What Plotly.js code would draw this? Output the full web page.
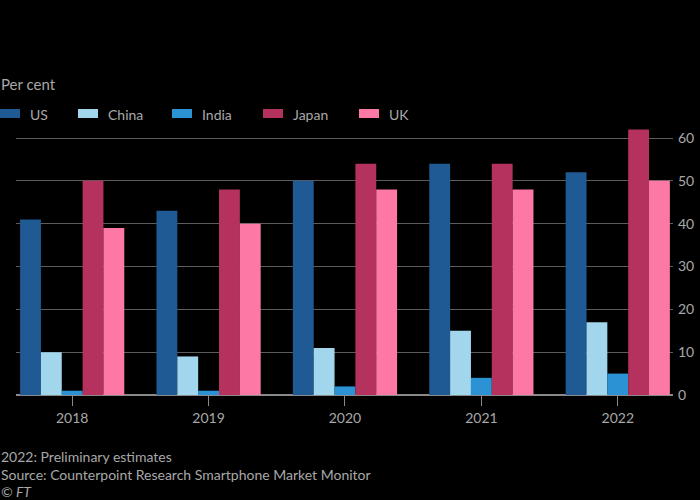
<!DOCTYPE html>
<html>
<head>
<meta charset="utf-8">
<script src="https://cdn.plot.ly/plotly-3.0.1.min.js"></script>
<style>html,body{margin:0;padding:0;background:#000;}#chart{width:700px;height:500px;}</style>
</head>
<body>
<div id="chart"></div>
<script>
var years = ['2018', '2019', '2020', '2021', '2022'];
var seriesNames = ['US', 'China', 'India', 'Japan', 'UK'];
var usValues = [41, 43, 50, 54, 52];
var chinaValues = [10, 9, 11, 15, 17];
var indiaValues = [1, 1, 2, 4, 5];
var japanValues = [50, 48, 54, 54, 62];
var ukValues = [39, 40, 48, 48, 50];
var yTicks = [0, 10, 20, 30, 40, 50, 60];
var seriesColors = ['#205a94', '#a2d6ec', '#2b93d3', '#b5325f', '#fe78a6'];

var allValues = [usValues, chinaValues, indiaValues, japanValues, ukValues];
var FONT = 'Lato, "Noto Sans", sans-serif';
var TXT = '#a8a8a8';

var W = 700, H = 500;
var M = {l: 16, r: 27, t: 125, b: 105};
var pw = W - M.l - M.r;
var ph = H - M.t - M.b;
function px2x(px) { return (px - M.l) / pw; }
function px2y(py) { return (H - M.b - py) / ph; }

var traces = seriesNames.map(function (name, i) {
  return {
    type: 'bar', name: name, x: years, y: allValues[i],
    marker: {color: seriesColors[i], line: {width: 0}},
    showlegend: false, hoverinfo: 'x+y+name'
  };
});

// custom legend (swatch + label), like the reference
var legendSwatchLeft = [0, 78, 172, 263, 359];
var shapes = [];
var annotations = [];
seriesNames.forEach(function (name, i) {
  var x0 = legendSwatchLeft[i];
  shapes.push({type: 'rect', xref: 'paper', yref: 'paper',
    x0: px2x(x0), x1: px2x(x0 + 20), y0: px2y(118), y1: px2y(109),
    fillcolor: seriesColors[i], line: {width: 0}});
  annotations.push({xref: 'paper', yref: 'paper', x: px2x(x0 + 28), y: px2y(114),
    xanchor: 'left', yanchor: 'middle', showarrow: false, text: name,
    font: {family: FONT, size: 14, color: TXT}});
});

annotations.push({xref: 'paper', yref: 'paper', x: px2x(-1), y: px2y(84),
  xanchor: 'left', yanchor: 'middle', showarrow: false, text: 'Per cent',
  font: {family: FONT, size: 15, color: TXT}});
var footer = [
  ['2022: Preliminary estimates', 456],
  ['Source: Counterpoint Research Smartphone Market Monitor', 474],
  ['<i>© FT</i>', 491]
];
footer.forEach(function (f) {
  annotations.push({xref: 'paper', yref: 'paper', x: px2x(-1), y: px2y(f[1]),
    xanchor: 'left', yanchor: 'middle', showarrow: false, text: f[0],
    font: {family: FONT, size: 14, color: TXT}});
});

var layout = {
  width: W, height: H,
  margin: M,
  paper_bgcolor: '#000', plot_bgcolor: '#000',
  barmode: 'group', bargap: 0.236, bargroupgap: 0,
  font: {family: FONT, color: TXT, size: 14},
  xaxis: {
    type: 'category', range: [-0.412, 4.405],
    showgrid: false, zeroline: false, showline: false,
    ticks: 'outside', ticklen: 10, tickwidth: 1, tickcolor: '#8a8a8a',
    tickfont: {family: FONT, size: 14, color: TXT},
    fixedrange: true
  },
  yaxis: {
    side: 'right', range: [0, 63.04], tickvals: yTicks,
    showgrid: true, gridcolor: '#5c5c5c', gridwidth: 1,
    zeroline: true, zerolinecolor: '#8a8a8a', zerolinewidth: 1.5,
    showline: false, ticks: '', ticklabelstandoff: 4,
    tickfont: {family: FONT, size: 14, color: TXT},
    fixedrange: true
  },
  shapes: shapes,
  annotations: annotations,
  showlegend: false
};

Plotly.newPlot('chart', traces, layout, {staticPlot: true, displayModeBar: false});
</script>
</body>
</html>
